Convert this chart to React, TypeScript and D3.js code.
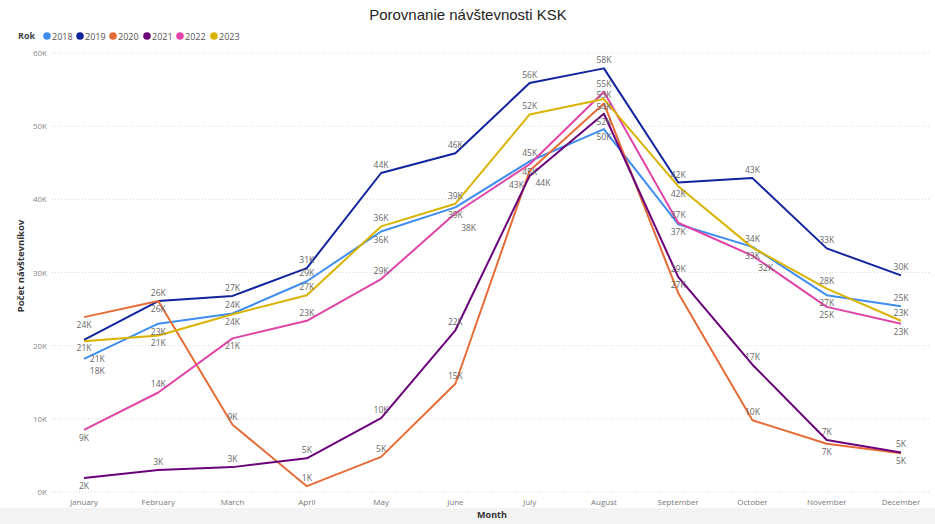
import React from "react";
import * as d3 from "d3";

const months = ["January","February","March","April","May","June","July","August","September","October","November","December"];
const years = ["2018","2019","2020","2021","2022","2023"];
const colors = ["#3E8EF0","#12239E","#E66C37","#6B007B","#E044A7","#D9B300"];

const v2018 = [18.2,23.0,24.4,28.8,35.6,38.9,45.2,49.6,36.6,33.5,26.9,25.4];
const v2019 = [20.8,26.1,26.8,30.6,43.6,46.3,55.9,57.9,42.3,42.9,33.3,29.6];
const v2020 = [23.9,26.1,9.2,0.8,4.8,14.8,43.9,53.1,27.2,9.8,6.6,5.3];
const v2021 = [1.9,3.0,3.4,4.6,10.1,22.1,43.2,51.7,29.4,17.4,7.1,5.4];
const v2022 = [8.5,13.6,21.0,23.4,29.1,38.1,44.8,54.7,36.8,32.3,25.3,23.0];
const v2023 = [20.6,21.4,24.3,26.9,36.3,39.4,51.6,53.7,41.8,33.4,27.8,23.4];
const series = [v2018, v2019, v2020, v2021, v2022, v2023];
const yTicks = [0,10,20,30,40,50,60];

const W = 935, H = 524;
const font = "'Segoe UI', 'Open Sans', 'DejaVu Sans', sans-serif";

type R = { x0: number; x1: number; y0: number; y1: number };

export default function App() {
  const x = d3.scalePoint<string>().domain(months).range([84, 901]);
  const y = d3.scaleLinear().domain([0, 60]).range([492, 53]);
  const line = d3.line<number>().x((_, i) => x(months[i]) as number).y(d => y(d));

  const labels: { x: number; y: number; t: string }[] = [];
  months.forEach((m, i) => {
    const px = x(m) as number;
    const pts = series.map((s, k) => ({ k, v: s[i] })).sort((a, b) => b.v - a.v);
    const placed: R[] = [];
    pts.forEach(p => {
      const py = y(p.v);
      const t = Math.round(p.v) + "K";
      const w = t.length * 5.5 + 2;
      const mk = (cx: number, base: number): R => ({ x0: cx - w / 2, x1: cx + w / 2, y0: base - 9, y1: base + 1.5 });
      const rx = px + w / 2 + 4;
      const lx = px - w / 2 - 4;
      const cands: R[] = [];
      const first = i === 0 ? [mk(px, py + 11), mk(px, py - 5)] : [mk(px, py - 5), mk(px, py + 11)];
      cands.push(...first);
      for (let d = 0; d <= 24; d += 3) {
        cands.push(mk(rx, py + 3 - d), mk(rx, py + 3 + d));
        if (i > 0) cands.push(mk(lx, py + 3 - d), mk(lx, py + 3 + d));
      }
      const hit = (r: R) => placed.some(q => r.x0 < q.x1 && r.x1 > q.x0 && r.y0 < q.y1 && r.y1 > q.y0);
      const r = cands.find(c => !hit(c)) || cands[0];
      placed.push(r);
      labels.push({ x: (r.x0 + r.x1) / 2, y: r.y1 - 1.5, t });
    });
  });

  const legendX = [47, 80, 113, 147, 180, 214];

  return (
    <svg width={W} height={H} style={{ position: "absolute", left: 0, top: 0, background: "#fff" }} fontFamily={font}>
      <rect x={0} y={508} width={W} height={16} fill="#f3f3f3" />
      <text x={468} y={20} textAnchor="middle" fontSize={15} fill="#252423" fontFamily="'Liberation Sans', Arial, sans-serif">Porovnanie návštevnosti KSK</text>
      <text x={18} y={39} fontSize={9} fontWeight="bold" fill="#444">Rok</text>
      {years.map((yr, k) => (
        <g key={yr}>
          <circle cx={legendX[k]} cy={36} r={3.8} fill={colors[k]} />
          <text x={legendX[k] + 5} y={39.5} fontSize={9} fill="#555">{yr}</text>
        </g>
      ))}
      {yTicks.map(t => (
        <g key={t}>
          <line x1={52} x2={930} y1={y(t)} y2={y(t)} stroke="#d8d8d8" strokeDasharray="1,2" />
          <text x={47} y={y(t) + 3} textAnchor="end" fontSize={8} fill="#888">{t}K</text>
        </g>
      ))}
      <text transform="translate(24,266) rotate(-90)" textAnchor="middle" fontSize={9.5} fontWeight="bold" fill="#333">Počet návštevníkov</text>
      {months.map(m => (
        <text key={m} x={x(m) as number} y={505} textAnchor="middle" fontSize={8} fill="#777">{m}</text>
      ))}
      <text x={492} y={518} textAnchor="middle" fontSize={9} fontWeight="bold" fill="#333">Month</text>
      {series.map((s, k) => (
        <path key={k} d={line(s) || ""} fill="none" stroke={colors[k]} strokeWidth={2} strokeLinejoin="round" />
      ))}
      {labels.map((l, i) => (
        <text key={i} x={l.x} y={l.y} textAnchor="middle" fontSize={8.5} fill="#666">{l.t}</text>
      ))}
    </svg>
  );
}
